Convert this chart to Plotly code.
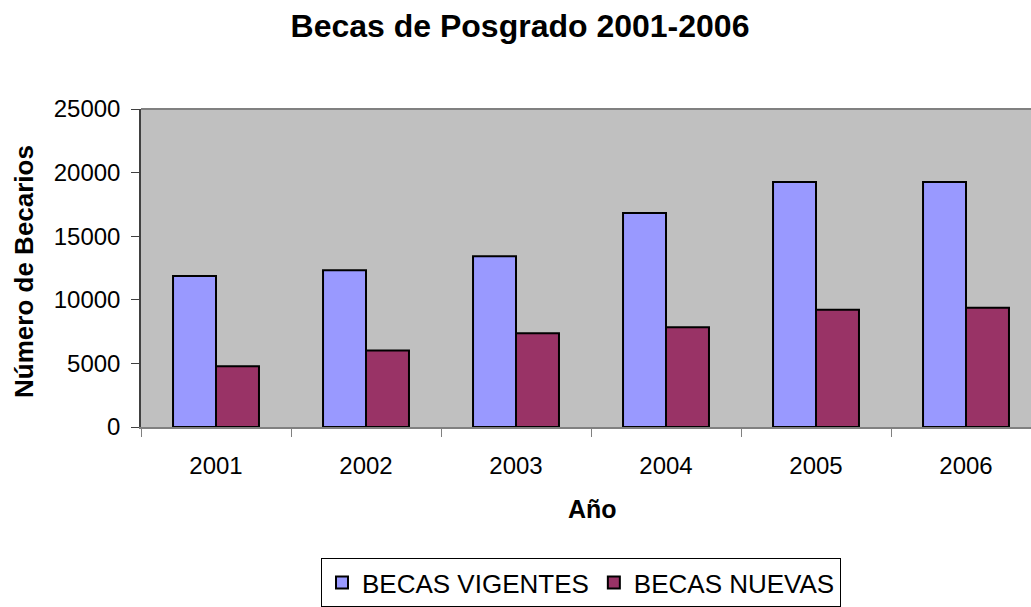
import plotly.graph_objects as go

years = ["2001", "2002", "2003", "2004", "2005", "2006"]
becas_vigentes = [11880, 12320, 13420, 16820, 19270, 19270]
becas_nuevas = [4770, 6005, 7370, 7835, 9225, 9380]
y_ticks = [0, 5000, 10000, 15000, 20000, 25000]

FONT = "Arial, Liberation Sans, sans-serif"

fig = go.Figure()
fig.add_trace(go.Bar(
    x=years, y=becas_vigentes, name="BECAS VIGENTES",
    marker=dict(color="#9999FF", line=dict(color="black", width=2)),
))
fig.add_trace(go.Bar(
    x=years, y=becas_nuevas, name="BECAS NUEVAS",
    marker=dict(color="#993366", line=dict(color="black", width=2)),
))

W, H = 1031, 607
L = 141
T = 109
PB = 433             # plot bottom (pixel row of zero)
R = 0
B = H - PB
pw = W - L - R
ph = PB - T


def px_x(ax):
    return (ax - L) / pw


def px_y(ay):
    return (PB - ay) / ph


fig.update_layout(
    width=W, height=H,
    margin=dict(l=L, r=R, t=T, b=B, pad=0),
    paper_bgcolor="white",
    plot_bgcolor="#C0C0C0",
    barmode="group",
    bargap=0.427,
    bargroupgap=0,
    font=dict(family=FONT, size=24, color="black"),
    title=dict(
        text="<b>Becas de Posgrado 2001-2006</b>",
        x=520 / W, xanchor="center",
        y=1 - 26 / H, yanchor="middle",
        font=dict(family=FONT, size=32, color="black"),
    ),
    showlegend=True,
    legend=dict(
        orientation="h",
        x=px_x(321), xanchor="left",
        y=px_y(567), yanchor="top",
        bordercolor="black", borderwidth=1,
        bgcolor="white",
        font=dict(family=FONT, size=26, color="black"),
        traceorder="normal",
    ),
)

fig.update_xaxes(
    type="category",
    range=[-0.5, 5.5 - 10 / 150],
    tickson="boundaries",
    ticks="outside", ticklen=8, tickcolor="#808080", tickwidth=1,
    showline=True, linecolor="#808080", linewidth=1.5,
    showgrid=False, zeroline=False,
    ticklabelstandoff=16,
    tickfont=dict(family=FONT, size=24, color="black"),
)
fig.update_yaxes(
    range=[0, 25000],
    tickvals=y_ticks,
    ticktext=[str(v) for v in y_ticks],
    ticks="outside", ticklen=8, tickcolor="#404040", tickwidth=1,
    showline=True, linecolor="#404040", linewidth=1.5,
    showgrid=False, zeroline=False,
    ticklabelstandoff=6,
    tickfont=dict(family=FONT, size=24, color="black"),
)

# top border of plot area
fig.add_shape(type="line", xref="paper", yref="paper",
              x0=0, x1=1, y0=1, y1=1,
              line=dict(color="#808080", width=2))

fig.add_annotation(
    text="<b>Número de Becarios</b>", textangle=-90,
    xref="paper", yref="paper",
    x=px_x(24), y=px_y(275),
    xanchor="center", yanchor="middle", showarrow=False,
    font=dict(family=FONT, size=26, color="black"),
)
fig.add_annotation(
    text="<b>Año</b>",
    xref="paper", yref="paper",
    x=px_x(592), y=px_y(517),
    xanchor="center", yanchor="middle", showarrow=False,
    font=dict(family=FONT, size=25, color="black"),
)

fig.write_html(
    "out.html",
    config={"displayModeBar": False},
    post_script="document.body.style.margin='0';document.body.style.overflow='hidden';",
)
